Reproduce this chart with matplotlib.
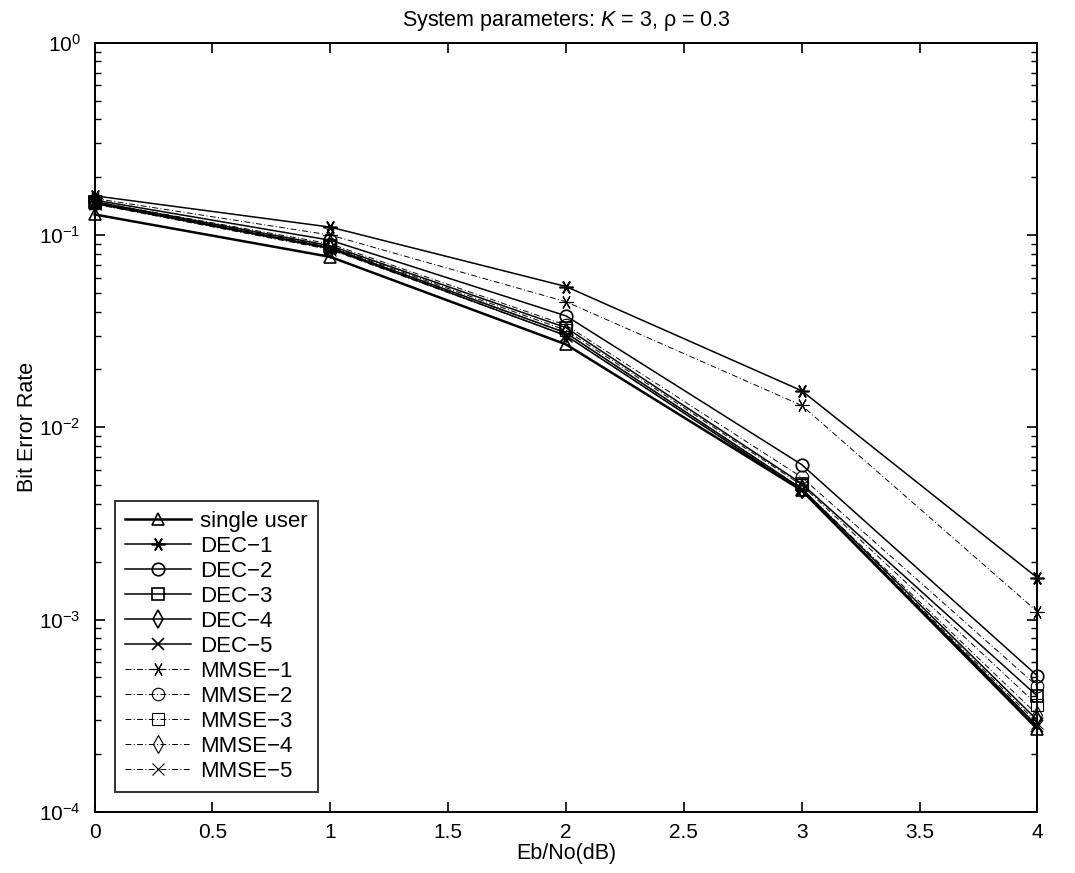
import matplotlib
matplotlib.use("Agg")
import matplotlib.pyplot as plt

plt.rcParams['font.family'] = ['Liberation Sans', 'DejaVu Sans']
plt.rcParams['mathtext.fontset'] = 'custom'
plt.rcParams['mathtext.it'] = 'Liberation Sans:italic'
plt.rcParams['mathtext.rm'] = 'Liberation Sans'
plt.rcParams['mathtext.sf'] = 'Liberation Sans'

ebno = [0, 1, 2, 3, 4]
single_user = [0.128, 0.077, 0.027, 0.0047, 0.00027]
dec1 = [0.160, 0.110, 0.054, 0.0155, 0.00165]
dec2 = [0.152, 0.094, 0.038, 0.0064, 0.00051]
dec3 = [0.149, 0.088, 0.033, 0.0051, 0.00040]
dec4 = [0.147, 0.086, 0.031, 0.0048, 0.00030]
dec5 = [0.146, 0.085, 0.030, 0.0047, 0.00028]
mmse1 = [0.155, 0.100, 0.045, 0.0130, 0.00110]
mmse2 = [0.149, 0.090, 0.034, 0.0055, 0.00045]
mmse3 = [0.147, 0.087, 0.032, 0.0050, 0.00036]
mmse4 = [0.146, 0.085, 0.031, 0.0048, 0.00032]
mmse5 = [0.145, 0.084, 0.030, 0.0047, 0.00029]

labels = ['single user', 'DEC\u22121', 'DEC\u22122', 'DEC\u22123', 'DEC\u22124', 'DEC\u22125',
          'MMSE\u22121', 'MMSE\u22122', 'MMSE\u22123', 'MMSE\u22124', 'MMSE\u22125']
series = [single_user, dec1, dec2, dec3, dec4, dec5, mmse1, mmse2, mmse3, mmse4, mmse5]
asterisk = (6, 2, 90)
markers = ['^', asterisk, 'o', 's', 'd', 'x', asterisk, 'o', 's', 'd', 'x']

fig = plt.figure(figsize=(10.75, 8.73), dpi=100)
ax = fig.add_axes([0.088, 0.070, 0.877, 0.881])

for i, (vals, lab, mk) in enumerate(zip(series, labels, markers)):
    if i < 6:
        ls = '-'
        lw = 1.8 if i == 0 else 1.1
        mew = 1.2
    else:
        ls = (0, (6, 2.5, 1, 2.5))
        lw = 0.7
        mew = 0.8
    ms = 10 if mk is asterisk else 9
    ax.plot(ebno, vals, linestyle=ls, color='black', linewidth=lw, marker=mk,
            markersize=ms, markerfacecolor='none', markeredgecolor='black',
            markeredgewidth=mew, label=lab, clip_on=False)

ax.set_yscale('log')
ax.set_xlim(0, 4)
ax.set_ylim(1e-4, 1)
ax.set_xticks([0, 0.5, 1, 1.5, 2, 2.5, 3, 3.5, 4])
ax.set_xticklabels(['0', '0.5', '1', '1.5', '2', '2.5', '3', '3.5', '4'])
ax.tick_params(axis='both', which='both', direction='in', top=True, right=True,
               labelsize=15)
ax.tick_params(axis='x', which='major', pad=8)
ax.tick_params(axis='y', which='major', pad=10)
ax.tick_params(axis='both', which='major', length=7, width=1.2)
ax.tick_params(axis='y', which='minor', length=4, width=1.0)
for s in ax.spines.values():
    s.set_linewidth(1.4)

ax.set_xlabel('Eb/No(dB)', fontsize=15.5, labelpad=1)
ax.set_ylabel('Bit Error Rate', fontsize=15.5, labelpad=1)
ax.set_title(r'System parameters: $K$ = 3, $\mathrm{\rho}$ = 0.3', fontsize=15.5, pad=12)

leg = ax.legend(loc='lower left', fontsize=16, handlelength=3.0, frameon=True,
                fancybox=False, edgecolor='black', borderpad=0.45, labelspacing=0.18,
                handletextpad=0.4, borderaxespad=0.9)
leg.get_frame().set_linewidth(1.4)

fig.savefig('out.png', dpi=100)
